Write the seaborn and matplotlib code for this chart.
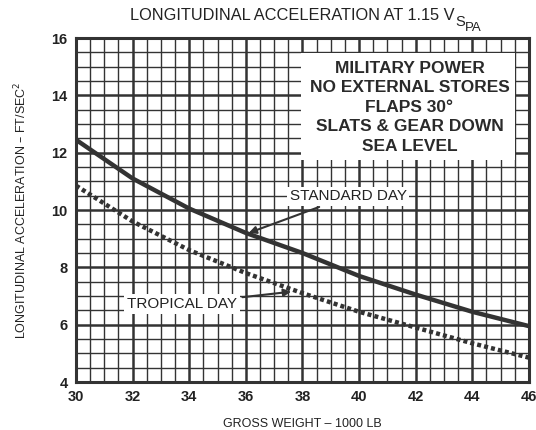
import numpy as np
import pandas as pd
import matplotlib
matplotlib.use('Agg')
import matplotlib.pyplot as plt
from matplotlib.ticker import MultipleLocator
from matplotlib.patches import Rectangle
import seaborn as sns

sns.set_style('white')
plt.rcParams['font.family'] = ['Liberation Sans', 'DejaVu Sans']

# gross weight (1000 lb) and longitudinal acceleration (ft/sec^2)
weight = [30, 32, 34, 36, 38, 40, 42, 44, 46]
standard_day = [12.45, 11.1, 10.05, 9.2, 8.5, 7.7, 7.05, 6.45, 5.95]
tropical_day = [10.85, 9.6, 8.6, 7.8, 7.1, 6.45, 5.9, 5.35, 4.85]

df = pd.DataFrame({'weight': weight, 'standard': standard_day, 'tropical': tropical_day})

ink = '#333333'
txt = '#222222'

fig = plt.figure(figsize=(5.36, 4.30), dpi=100)
ax = fig.add_axes([0.1418, 0.1116, 0.845, 0.80])

ax.set_xlim(30, 46)
ax.set_ylim(4, 16)
ax.xaxis.set_major_locator(MultipleLocator(2))
ax.yaxis.set_major_locator(MultipleLocator(2))
ax.xaxis.set_minor_locator(MultipleLocator(0.5))
ax.yaxis.set_minor_locator(MultipleLocator(0.5))
ax.grid(which='major', color=ink, linewidth=1.8)
ax.grid(which='minor', color=ink, linewidth=1.0)
ax.set_axisbelow(True)
for s in ax.spines.values():
    s.set_color(ink)
    s.set_linewidth(2.2)
ax.tick_params(which='both', length=0, colors=txt, labelsize=10.5)
ax.tick_params(axis='x', pad=6)
ax.tick_params(axis='y', pad=6)
for lab in ax.get_xticklabels() + ax.get_yticklabels():
    lab.set_fontweight('bold')

sns.lineplot(data=df, x='weight', y='standard', ax=ax, color=ink, linewidth=3.2, zorder=5)
tl = sns.lineplot(data=df, x='weight', y='tropical', ax=ax, color=ink, linewidth=3.2, zorder=5)
tl.lines[-1].set_dashes((0.9, 0.7))
tl.lines[-1].set_dash_capstyle('butt')

ax.set_xlabel('GROSS WEIGHT – 1000 LB', fontsize=9, color=txt, labelpad=10)
ax.set_ylabel('LONGITUDINAL ACCELERATION – FT/SEC$^2$', fontsize=9, color=txt, labelpad=16)

# title with stacked subscripts (V_S_PA)
fig.text(0.848, 0.963, 'LONGITUDINAL ACCELERATION AT 1.15 V',
         ha='right', va='center', fontsize=11.8, color=txt)
fig.text(0.849, 0.948, 'S', ha='left', va='center', fontsize=10.5, color=txt)
fig.text(0.868, 0.935, 'PA', ha='left', va='center', fontsize=9.5, color=txt)

# condition box
ax.add_patch(Rectangle((37.95, 11.74), 7.55, 3.74, facecolor='white',
                       edgecolor='none', zorder=8))
ax.text(41.78, 13.58,
        'MILITARY POWER\nNO EXTERNAL STORES\nFLAPS 30°\nSLATS & GEAR DOWN\nSEA LEVEL',
        ha='center', va='center', fontsize=12.5, fontweight='bold', color='#2a2a2a',
        linespacing=1.38, zorder=10)

ax.annotate('STANDARD DAY', xy=(36.1, 9.2), xytext=(37.55, 10.48),
            fontsize=11, color=txt, ha='left', va='center', zorder=10,
            bbox=dict(facecolor='white', edgecolor='none', pad=2),
            arrowprops=dict(arrowstyle='-|>', color=ink, lw=1.5, shrinkA=2, shrinkB=0))
ax.annotate('TROPICAL DAY', xy=(37.6, 7.15), xytext=(31.8, 6.72),
            fontsize=11, color=txt, ha='left', va='center', zorder=10,
            bbox=dict(facecolor='white', edgecolor='none', pad=2),
            arrowprops=dict(arrowstyle='-|>', color=ink, lw=1.5, shrinkA=2, shrinkB=0))

fig.savefig('out.png', dpi=100, facecolor='white')
